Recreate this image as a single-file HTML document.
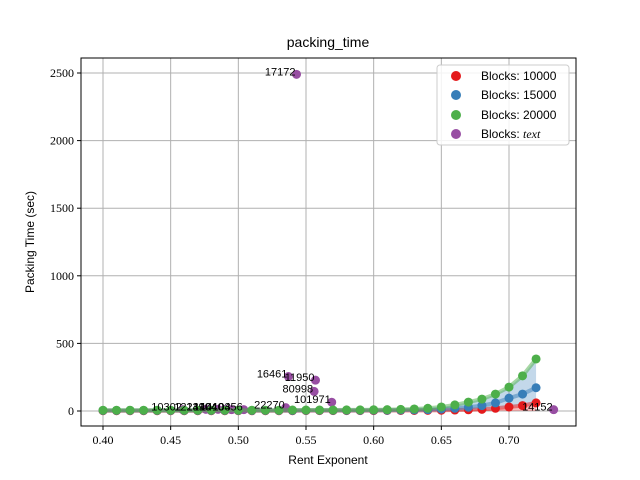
<!DOCTYPE html>
<html><head><meta charset="utf-8"><style>
body{margin:0;background:#fff;}
svg{display:block;}
.tk{font-family:"Liberation Serif",serif;font-size:12px;fill:#000;}
.lb{font-family:"Liberation Sans",sans-serif;font-size:12px;fill:#000;}
.an{font-family:"Liberation Sans",sans-serif;font-size:11px;fill:#000;}
</style></head><body>
<svg id="chart" width="640" height="480" xmlns="http://www.w3.org/2000/svg">
<rect width="640" height="480" fill="#fff"/>
<g id="grid"></g>
<g id="bands"></g>
<g id="marks"></g>
<g id="labels"></g>
<rect x="81" y="58" width="495" height="368" fill="none" stroke="#000" stroke-width="1"/>
<g id="ticks"></g>
<text x="328" y="47" text-anchor="middle" class="lb" style="font-size:14px">packing_time</text>
<text x="328" y="464" text-anchor="middle" class="lb">Rent Exponent</text>
<text transform="translate(34,242) rotate(-90)" text-anchor="middle" class="lb">Packing Time (sec)</text>
<g>
<rect x="437" y="65" width="132" height="80" rx="3" fill="#fff" fill-opacity="0.85" stroke="#ccc"/>
<circle cx="456" cy="76" r="5" fill="#e41a1c"/><text x="481" y="80" class="lb">Blocks: 10000</text>
<circle cx="456" cy="95" r="5" fill="#377eb8"/><text x="481" y="99" class="lb">Blocks: 15000</text>
<circle cx="456" cy="115" r="5" fill="#4daf4a"/><text x="481" y="119" class="lb">Blocks: 20000</text>
<circle cx="456" cy="134" r="5" fill="#984ea3"/><text x="481" y="138" class="lb">Blocks: <tspan font-family="Liberation Serif" font-style="italic">text</tspan></text>
</g>
</svg>
<script>
const xs = [0.40,0.41,0.42,0.43,0.44,0.45,0.46,0.47,0.48,0.49,0.50,0.51,0.52,0.53,0.54,0.55,0.56,0.57,0.58,0.59,0.60,0.61,0.62,0.63,0.64,0.65,0.66,0.67,0.68,0.69,0.70,0.71,0.72];
const red   = [2,2,2,2,2,2,2,2,2,2,2,2,2,2,2,3,3,3,3,3,3,4,4,4,5,6,7,9,12,20,30,40,60];
const blue  = [4,4,4,4,4,4,4,4,4,4,4,4,4,4,4,5,5,5,5,5,6,6,7,8,10,14,20,28,40,60,95,125,172];
const green = [6,6,6,6,6,6,6,6,6,6,6,6,6,6,7,7,7,7,8,8,9,10,12,15,20,30,45,66,88,125,177,260,385];
const pX = [0.459,0.476,0.485,0.490,0.495,0.504,0.535,0.537,0.543,0.556,0.557,0.569,0.733];
const pY = [10,12,12,12,10,10,25,255,2490,145,228,65,10];
const pLab = ["10302","12241","13904","14040","14103","10456","22270","16461","17172","80998","11950","101971","14152"];
const xTicks = [0.40,0.45,0.50,0.55,0.60,0.65,0.70];
const yTicks = [0,500,1000,1500,2000,2500];
const X = v => 103 + (v-0.40)/0.30*406;
const Y = v => 411 - v*338/2500;
const NS="http://www.w3.org/2000/svg";
function mk(t,a,p){const e=document.createElementNS(NS,t);for(const k in a)e.setAttribute(k,a[k]);p.appendChild(e);return e;}
const grid=document.getElementById('grid'),ticks=document.getElementById('ticks');
xTicks.forEach(t=>{
  const l=mk('line',{x1:X(t),x2:X(t),y1:58,y2:426,stroke:'#b0b0b0','stroke-width':1},grid);
  
  
  mk('line',{x1:X(t),x2:X(t),y1:426,y2:430,stroke:'#000'},ticks);
  const tx=mk('text',{x:X(t),y:444,'text-anchor':'middle',class:'tk'},ticks);tx.textContent=t.toFixed(2);
  
  
});
yTicks.forEach(t=>{
  const l=mk('line',{x1:81,x2:576,y1:Y(t),y2:Y(t),stroke:'#b0b0b0','stroke-width':1},grid);
  
  
  mk('line',{x1:77,x2:81,y1:Y(t),y2:Y(t),stroke:'#000'},ticks);
  const tx=mk('text',{x:74,y:Y(t)+4,'text-anchor':'end',class:'tk'},ticks);tx.textContent=t;
  
  
});
const bands=document.getElementById('bands'),marks=document.getElementById('marks'),labels=document.getElementById('labels');
function band(lo,hi,col,name){
  let d='M'+xs.map((x,i)=>X(x)+','+Y(hi[i])).join('L');
  for(let i=xs.length-1;i>=0;i--) d+='L'+X(xs[i])+','+Y(lo[i]);
  const p=mk('path',{d:d+'Z',fill:col,'fill-opacity':0.3},bands);
  
  
}
band(xs.map(()=>0),red,'#e41a1c','band-10000');
band(red,blue,'#377eb8','band-15000');
band(blue,green,'#377eb8','band-20000');
function series(vals,col,name){
  const l=mk('polyline',{points:xs.map((x,i)=>X(x)+','+Y(vals[i])).join(' '),fill:'none',stroke:col,'stroke-width':4,'stroke-opacity':0.5},marks);
  
  
  xs.forEach((x,i)=>{
    const c=mk('circle',{cx:X(x),cy:Y(vals[i]),r:4.5,fill:col},marks);
    
    
  });
}
series(red,'#e41a1c','series-10000');
series(blue,'#377eb8','series-15000');
pX.forEach((x,i)=>{
  const c=mk('circle',{cx:X(x),cy:Y(pY[i]),r:4.5,fill:'#984ea3'},marks);
  
  
  const t=mk('text',{x:X(x)-1,y:Y(pY[i])+1,'text-anchor':'end',class:'an'},labels);
  t.textContent=pLab[i];
  
  
});
series(green,'#4daf4a','series-20000');
</script>
</body></html>
